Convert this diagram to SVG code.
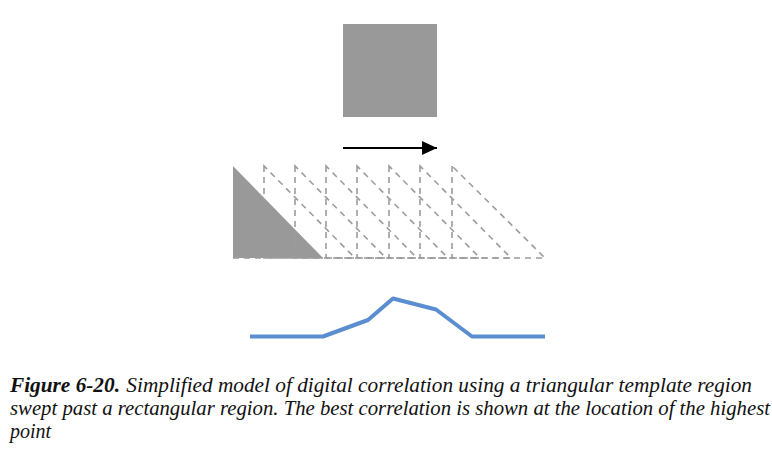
<svg xmlns="http://www.w3.org/2000/svg" width="772" height="450" viewBox="0 0 772 450">
<style>
.shape{fill:#999999;stroke:none}
.tpl{fill:none;stroke:#9c9c9c;stroke-width:1.6;stroke-dasharray:6 5}
.curve{fill:none;stroke:#5b8ed1;stroke-width:4;stroke-linejoin:round}
.cap{font-family:"Liberation Serif",serif;font-style:italic;font-size:20px;fill:#111}
.capb{font-weight:bold}
</style>
<defs>
<marker id="ah" markerWidth="16" markerHeight="14" refX="15" refY="7" orient="auto" markerUnits="userSpaceOnUse">
<path d="M0,0 L15,7 L0,14 Z" fill="#000"/>
</marker>
</defs>
<rect width="772" height="450" fill="#fff"/>
<g id="rect-region"><rect class="shape" x="343" y="24" width="94" height="93"/></g>
<g id="template"><polygon class="shape" points="233,166 233,258 323,258"/></g>
<g id="swept-positions">
<polygon class="tpl" points="264,166 264,258 355,258"/>
<polygon class="tpl" points="295,166 295,258 386,258"/>
<polygon class="tpl" points="326,166 326,258 417,258"/>
<polygon class="tpl" points="357,166 357,258 448,258"/>
<polygon class="tpl" points="389,166 389,258 480,258"/>
<polygon class="tpl" points="420,166 420,258 511,258"/>
<polygon class="tpl" points="452,166 452,258 545,258"/>
<line class="tpl" x1="233" y1="258" x2="323" y2="258"/>
</g>
<g id="connectors">
<line x1="343" y1="148" x2="437" y2="148" stroke="#000" stroke-width="2" marker-end="url(#ah)"/>
</g>
<g id="correlation-curve">
<polyline class="curve" points="250,336.5 323,336.5 368,320 393,298.5 436,309.5 472,336.5 545,336.5"/>
</g>
<g id="caption">
<text class="cap" x="10" y="392" textLength="742" lengthAdjust="spacingAndGlyphs"><tspan class="capb">Figure 6-20.</tspan><tspan dx="6">Simplified model of digital correlation using a triangular template region</tspan></text>
<text class="cap" x="10" y="415" textLength="760" lengthAdjust="spacingAndGlyphs">swept past a rectangular region. The best correlation is shown at the location of the highest</text>
<text class="cap" x="10" y="438">point</text>
</g>
</svg>
